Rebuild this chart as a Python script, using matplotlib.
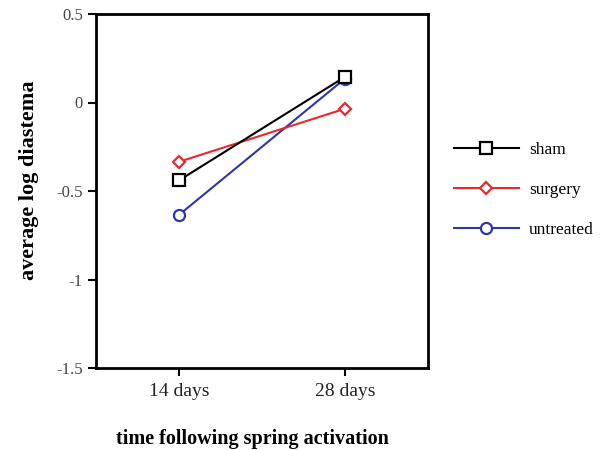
import matplotlib
matplotlib.use("Agg")
import matplotlib.pyplot as plt

# data
times = ["14 days", "28 days"]
sham = [-0.44, 0.145]
surgery = [-0.335, -0.035]
untreated = [-0.635, 0.135]

# name, values, colour, marker, size, zorder
series = [
    ("sham", sham, "black", "s", 8, 4),
    ("surgery", surgery, "#e8282c", "D", 6, 3),
    ("untreated", untreated, "#2f35a8", "o", 8, 2),
]

plt.rcParams["font.family"] = ["Liberation Serif", "DejaVu Serif"]

fig = plt.figure(figsize=(6.05, 4.5), dpi=100)
ax = fig.add_axes([96 / 605, 1 - 368 / 450, 332 / 605, 354 / 450])

x = list(range(len(times)))
for name, vals, col, mk, ms, z in series:
    ax.plot(x, vals, color=col, lw=1.5, marker=mk, ms=ms, mfc="white",
            mec=col, mew=1.6, label=name, zorder=z)

ax.set_xlim(-0.5, 1.5)
ax.set_ylim(-1.5, 0.5)
ax.set_xticks(x)
ax.set_xticklabels(times, fontsize=14, color="#222222")
ax.set_yticks([-1.5, -1, -0.5, 0, 0.5])
ax.set_yticklabels(["-1.5", "-1", "-0.5", "0", "0.5"], fontsize=12, color="#444444")
ax.tick_params(direction="out", length=6, width=1.5)
ax.tick_params(axis="x", pad=5)
for s in ax.spines.values():
    s.set_linewidth(2)

ax.set_xlabel("time following spring activation", fontsize=14.5, fontweight="bold")
ax.set_ylabel("average log diastema", fontsize=16, fontweight="bold")
ax.xaxis.set_label_coords(0.47, -0.172)
ax.yaxis.set_label_coords(-0.172, 0.53)

ax.legend(loc="center left", bbox_to_anchor=(1.03, 0.503), frameon=False,
          fontsize=12.5, handlelength=3.75, labelspacing=1.35, handletextpad=0.6)

fig.savefig("out.png", dpi=100)
